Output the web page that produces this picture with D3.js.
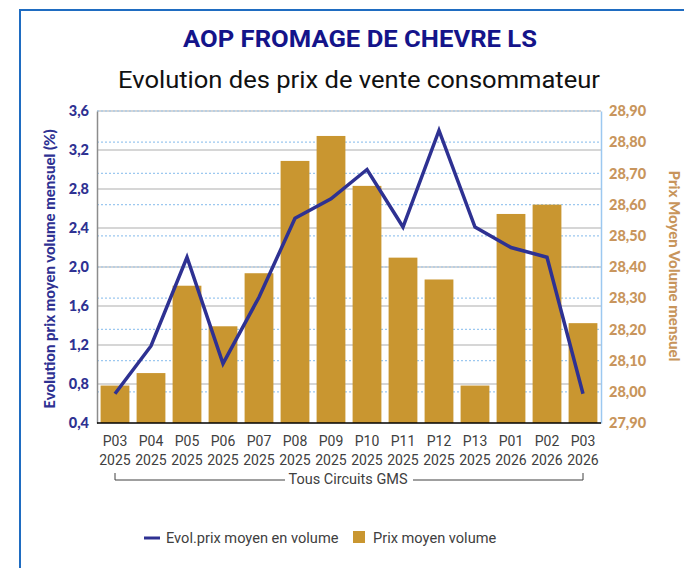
<!DOCTYPE html>
<html>
<head>
<meta charset="utf-8">
<script src="https://cdn.jsdelivr.net/npm/d3@7"></script>
<style>
  body { margin: 0; background: #fff; }
  svg { display: block; }
</style>
</head>
<body>
<div id="canvas"></div>
<script>
var periods = ['P03','P04','P05','P06','P07','P08','P09','P10','P11','P12','P13','P01','P02','P03'];
var years   = ['2025','2025','2025','2025','2025','2025','2025','2025','2025','2025','2025','2026','2026','2026'];
var prixMoyen = [28.02,28.06,28.34,28.21,28.38,28.74,28.82,28.66,28.43,28.36,28.02,28.57,28.60,28.22];
var evolPrix  = [0.70,1.19,2.10,1.01,1.69,2.50,2.70,3.00,2.41,3.40,2.41,2.20,2.10,0.70];
var leftTicks  = [0.4,0.8,1.2,1.6,2.0,2.4,2.8,3.2,3.6];
var rightTicks = [27.9,28.0,28.1,28.2,28.3,28.4,28.5,28.6,28.7,28.8,28.9];

var W = 684, H = 568;
var m = {t:111, r:83, b:145, l:97},
    w = W - m.l - m.r,
    h = H - m.t - m.b;

var blue = '#2e3192', gold = '#c99630', tan = '#c8955c';

var svg = d3.select('#canvas').append('svg')
    .attr('width', W).attr('height', H);

// outer frame
svg.append('path')
    .attr('d', 'M20,' + H + 'V10H' + W)
    .style('fill','none').style('stroke','#1f6cc1').style('stroke-width',2);

// titles
svg.append('text').attr('x', 360).attr('y', 47)
    .attr('text-anchor','middle')
    .attr('textLength', 354).attr('lengthAdjust','spacingAndGlyphs')
    .style('font-family','Roboto').style('font-weight','bold')
    .style('font-size','23px').style('fill','#14148a')
    .text('AOP FROMAGE DE CHEVRE LS');
svg.append('text').attr('x', 359).attr('y', 88)
    .attr('text-anchor','middle')
    .attr('textLength', 482).attr('lengthAdjust','spacingAndGlyphs')
    .style('font-family','Roboto').style('font-size','24.5px').style('fill','#111')
    .text('Evolution des prix de vente consommateur');

var plot = svg.append('g').attr('transform','translate(' + m.l + ',' + m.t + ')');

var x = d3.scaleBand().domain(d3.range(periods.length)).range([0, w]).paddingInner(0.2).paddingOuter(0.1);
var yL = d3.scaleLinear().domain([0.4, 3.6]).range([h, 0]);
var yR = d3.scaleLinear().domain([27.9, 28.9]).range([h, 0]);

// gridlines: solid for left, dotted for right
plot.append('g').selectAll('line').data(leftTicks.slice(1)).enter().append('line')
    .attr('x1', 0).attr('x2', w)
    .attr('y1', function(d){ return yL(d); }).attr('y2', function(d){ return yL(d); })
    .style('stroke','#d6d6d6').style('stroke-width',2);
plot.append('g').selectAll('line').data(rightTicks.slice(1)).enter().append('line')
    .attr('x1', 0).attr('x2', w)
    .attr('y1', function(d){ return yR(d); }).attr('y2', function(d){ return yR(d); })
    .style('stroke','#9cc8f0').style('stroke-width',1.2).style('stroke-dasharray','2,2');

// bars
plot.selectAll('.bar').data(prixMoyen).enter().append('rect').attr('class','bar')
    .attr('x', function(d,i){ return x(i); })
    .attr('width', x.bandwidth())
    .attr('y', function(d){ return yR(d); })
    .attr('height', function(d){ return h - yR(d); })
    .style('fill', gold);

// axes
var axL = plot.append('g').call(d3.axisLeft(yL).tickValues(leftTicks).tickSize(0).tickPadding(8)
    .tickFormat(function(d){ return d3.format('.1f')(d).replace('.', ','); }));
axL.select('.domain').style('stroke','#8c8c8c').style('stroke-width',1.5);
axL.selectAll('text').style('font-family','Lato').style('font-weight','900')
    .style('font-size','14.5px').style('fill', blue);

var axR = plot.append('g').attr('transform','translate(' + w + ',0)')
    .call(d3.axisRight(yR).tickValues(rightTicks).tickSize(0).tickPadding(8)
    .tickFormat(function(d){ return d3.format('.2f')(d).replace('.', ','); }));
axR.select('.domain').style('stroke','#9cc8f0').style('stroke-width',1.5);
axR.selectAll('text').style('font-family','Lato').style('font-weight','900')
    .style('font-size','14.5px').style('fill', tan);

plot.append('line').attr('x1',0).attr('x2',w).attr('y1',h).attr('y2',h)
    .style('stroke','#000').style('stroke-width',1.5);

// x labels
var xl = plot.append('g').selectAll('text').data(periods).enter().append('text')
    .attr('x', function(d,i){ return x(i) + x.bandwidth()/2; })
    .attr('text-anchor','middle')
    .style('font-family','Roboto').style('font-size','14px').style('fill','#404040');
xl.append('tspan').attr('x', function(d,i){ return x(i) + x.bandwidth()/2; })
    .attr('y', h + 23).text(function(d){ return d; });
xl.append('tspan').attr('x', function(d,i){ return x(i) + x.bandwidth()/2; })
    .attr('y', h + 42).text(function(d,i){ return years[i]; });

// group bracket
var gx0 = x(0) + x.bandwidth()/2, gx1 = x(periods.length-1) + x.bandwidth()/2, gy = h + 57;
plot.append('path')
    .attr('d','M' + gx0 + ',' + (gy-7) + 'V' + gy + 'H' + (w/2 - 64) +
              'M' + (w/2 + 64) + ',' + gy + 'H' + gx1 + 'V' + (gy-7))
    .style('fill','none').style('stroke','#404040').style('stroke-width',1);
plot.append('text').attr('x', w/2 - 1).attr('y', gy + 4)
    .attr('text-anchor','middle')
    .style('font-family','Roboto').style('font-size','14.5px').style('fill','#404040')
    .text('Tous Circuits GMS');

// line
var line = d3.line()
    .x(function(d,i){ return x(i) + x.bandwidth()/2; })
    .y(function(d){ return yL(d); });
plot.append('path').datum(evolPrix).attr('d', line)
    .style('fill','none').style('stroke', blue).style('stroke-width',3.5)
    .style('stroke-linejoin','miter');

// axis titles
svg.append('text')
    .attr('transform','translate(55,' + (m.t + h/2 + 2) + ') rotate(-90)')
    .attr('text-anchor','middle')
    .style('font-family','Lato').style('font-weight','900').style('font-size','15px')
    .style('fill', blue)
    .text('Evolution prix moyen volume mensuel (%)');
svg.append('text')
    .attr('transform','translate(669,' + 266 + ') rotate(90)')
    .attr('text-anchor','middle')
    .style('font-family','Lato').style('font-weight','900').style('font-size','15px')
    .style('fill', tan)
    .text('Prix Moyen Volume mensuel');

// legend
var lg = svg.append('g').attr('transform','translate(144,538)');
lg.append('line').attr('x1',0).attr('x2',16).attr('y1',0).attr('y2',0)
    .style('stroke', blue).style('stroke-width',3);
lg.append('text').attr('x',22).attr('y',5)
    .style('font-family','Roboto').style('font-size','14.6px').style('fill','#404040')
    .text('Evol.prix moyen en volume');
lg.append('rect').attr('x',209).attr('y',-7).attr('width',12).attr('height',12).style('fill', gold);
lg.append('text').attr('x',229).attr('y',5)
    .style('font-family','Roboto').style('font-size','14.6px').style('fill','#404040')
    .text('Prix moyen volume');
</script>
</body>
</html>
